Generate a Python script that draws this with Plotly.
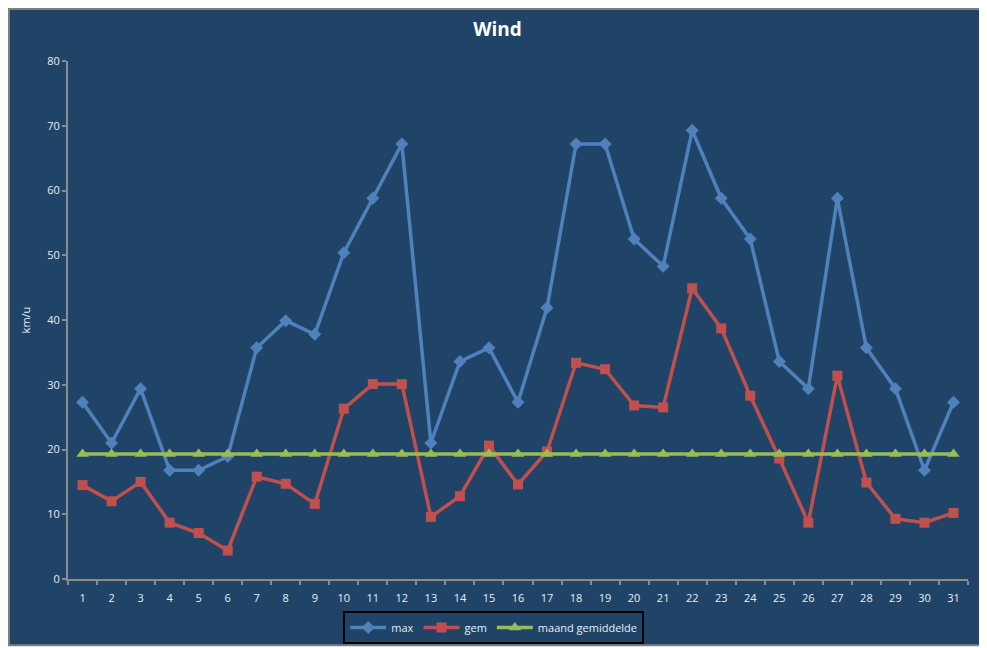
import plotly.graph_objects as go

days = [str(d) for d in range(1, 32)]

wind_max = [27.3, 21.0, 29.4, 16.8, 16.8, 18.9, 35.7, 39.9, 37.8, 50.4,
            58.8, 67.2, 21.0, 33.6, 35.7, 27.3, 41.9, 67.2, 67.2, 52.5,
            48.3, 69.3, 58.8, 52.5, 33.6, 29.4, 58.8, 35.7, 29.4, 16.8, 27.3]

wind_gem = [14.5, 12.0, 15.0, 8.7, 7.1, 4.4, 15.8, 14.7, 11.6, 26.3,
            30.1, 30.1, 9.6, 12.8, 20.6, 14.6, 19.7, 33.4, 32.4, 26.8,
            26.5, 44.9, 38.7, 28.3, 18.6, 8.7, 31.4, 14.9, 9.3, 8.7, 10.2]

maand_gem = [19.3, 19.3, 19.3, 19.3, 19.3, 19.3, 19.3, 19.3, 19.3, 19.3,
             19.3, 19.3, 19.3, 19.3, 19.3, 19.3, 19.3, 19.3, 19.3, 19.3,
             19.3, 19.3, 19.3, 19.3, 19.3, 19.3, 19.3, 19.3, 19.3, 19.3, 19.3]

bg = '#1F4467'
axis_col = '#8C8C8C'
txt = '#E8EEF4'
font = 'Open Sans'

fig = go.Figure()
fig.add_trace(go.Scatter(x=days, y=wind_max, name='max', mode='lines+markers',
                         line=dict(color='#4F81BD', width=3.5),
                         marker=dict(symbol='diamond', size=10, color='#4F81BD')))
fig.add_trace(go.Scatter(x=days, y=wind_gem, name='gem', mode='lines+markers',
                         line=dict(color='#C0504D', width=3.5),
                         marker=dict(symbol='square', size=10, color='#C0504D')))
fig.add_trace(go.Scatter(x=days, y=maand_gem, name='maand gemiddelde', mode='lines+markers',
                         line=dict(color='#9BBB59', width=3.5),
                         marker=dict(symbol='triangle-up', size=11, color='#9BBB59')))

# chart area frame (dark panel with grey edge)
fig.add_shape(type='rect', xref='paper', yref='paper', layer='below',
              x0=-0.0656, x1=1.0156, y0=-0.128, y1=1.1005,
              fillcolor=bg, line=dict(color='#7F7F7F', width=2))

# page body adds an 8px offset, so the figure is slightly smaller than the window
fig.update_layout(
    width=979, height=640,
    paper_bgcolor='white', plot_bgcolor=bg,
    margin=dict(l=60, r=19, t=53, b=69, autoexpand=False),
    title=dict(text='<b>Wind</b>', x=0.5, xanchor='center', y=0.966, yanchor='middle',
               font=dict(family=font, size=19, color='white')),
    font=dict(family=font, size=11, color=txt),
    showlegend=True,
    legend=dict(orientation='h', x=0.473, xanchor='center', y=-0.062, yanchor='top',
                bgcolor=bg, bordercolor='black', borderwidth=2,
                font=dict(family=font, size=11, color=txt), itemwidth=36,
                tracegroupgap=0),
)

fig.update_xaxes(type='category', range=[-0.5, 30.5], showgrid=False, showline=True,
                 linecolor=axis_col, linewidth=2,
                 ticks='outside', tickson='boundaries', ticklen=4, tickcolor=axis_col, tickwidth=2,
                 ticklabelstandoff=8,
                 tickfont=dict(family=font, size=11, color=txt), zeroline=False)
fig.update_yaxes(range=[0, 80], dtick=10, showgrid=False, showline=True, linecolor=axis_col,
                 linewidth=2, ticks='outside', ticklen=4, tickcolor=axis_col, tickwidth=2,
                 tickfont=dict(family=font, size=11, color=txt), zeroline=False,
                 title=dict(text='km/u', font=dict(family=font, size=11, color=txt), standoff=14))

fig.write_html('out.html')
